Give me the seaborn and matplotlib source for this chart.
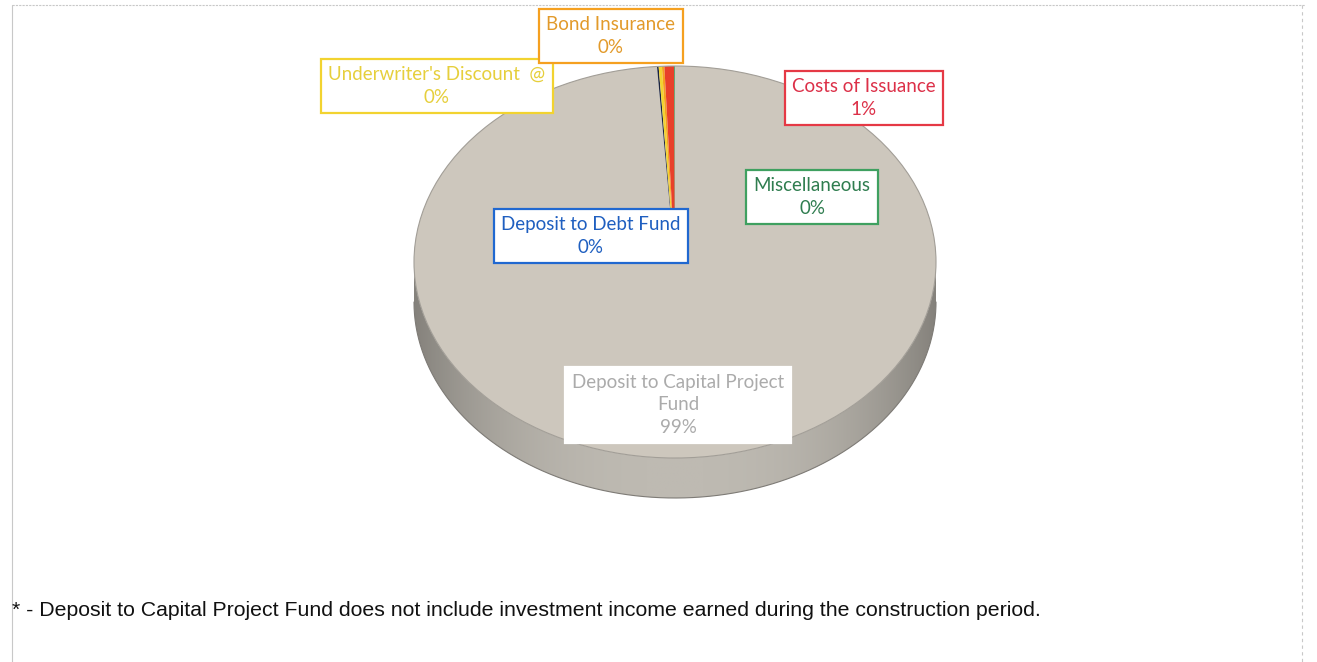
import numpy as np
import matplotlib
matplotlib.use("Agg")
import matplotlib.pyplot as plt
import seaborn as sns
from matplotlib.patches import Polygon, Ellipse
from matplotlib.colors import LinearSegmentedColormap
from matplotlib.lines import Line2D

# ---------------- data ----------------
categories = ["Deposit to Capital Project Fund", "Deposit to Debt Fund",
              "Underwriter's Discount @", "Bond Insurance",
              "Costs of Issuance", "Miscellaneous"]
shares = [98.9, 0.1, 0.2, 0.15, 0.6, 0.05]
slice_colors = ["#CDC7BD", "#1B2440", "#F2D330", "#F5A020", "#E8402A", "#3A9A5A"]
label_colors = ["#ABABAB", "#1F5FC0", "#E6CF3C", "#E29A2A", "#DC3048", "#2F7D4F"]
border_colors = ["#FFFFFF", "#2068D0", "#F2D330", "#F5A020", "#E53945", "#3FA060"]
label_text = ["Deposit to Capital Project\nFund", "Deposit to Debt Fund",
              "Underwriter's Discount  @", "Bond Insurance",
              "Costs of Issuance", "Miscellaneous"]
footnote = ("* - Deposit to Capital Project Fund does not include investment "
            "income earned during the construction period.")

# ---------------- style ----------------
sns.set_theme(style="white")
plt.rcParams["font.family"] = ["Lato", "DejaVu Sans"]

W, H = 1317, 662
fig = plt.figure(figsize=(W / 100, H / 100), dpi=100)
ax = fig.add_axes([0, 0, 1, 1])

# pie geometry in pixels (center, radii, depth)
cx, cy, rx, ry, depth = 675, 262, 261, 196, 40
d = depth / ry

def px(x, y):
    return (x - cx) / rx, (cy - y) / ry

# side of the 3D pie
th = np.linspace(np.pi, 2 * np.pi, 300)
top = np.column_stack([np.cos(th), np.sin(th)])
bot = np.column_stack([np.cos(th[::-1]), np.sin(th[::-1]) - d])
side = Polygon(np.vstack([top, bot]), closed=True, fc="none", ec="none")
ax.add_patch(side)
xs = np.linspace(-1, 1, 400)
grad = np.tile(np.abs(xs) ** 2.5, (50, 1))
cmap = LinearSegmentedColormap.from_list("side", ["#BEBAB2", "#85827C"])
im = ax.imshow(grad, extent=[-1, 1, -1 - d, 0], aspect="auto", cmap=cmap,
               zorder=1, origin="upper")
im.set_clip_path(side)
ax.plot(np.cos(th), np.sin(th) - d, color="#7E7B76", lw=0.8, zorder=1.5)

# top face
wedges, _ = ax.pie(shares, colors=slice_colors, startangle=90, counterclock=False,
                   radius=1, center=(0, 0), wedgeprops=dict(linewidth=0))
for w in wedges:
    w.set_zorder(2)
ax.add_patch(Ellipse((0, 0), 2, 2, fc="none", ec="#A29E97", lw=0.8, zorder=2.5))

# labels
label_pos = [(678, 405), (591, 236), (437, 86), (611, 36), (864, 98), (812, 197)]
total = sum(shares)
for i, (txt, (lx, ly)) in enumerate(zip(label_text, label_pos)):
    pct = f"{round(shares[i] / total * 100):.0f}%"
    x, y = px(lx, ly)
    ax.text(x, y, f"{txt}\n{pct}", ha="center", va="center", fontsize=13.5,
            color=label_colors[i], linespacing=1.4, zorder=5,
            bbox=dict(boxstyle="square,pad=0.38", fc="white",
                      ec=border_colors[i], lw=1.6))

ax.set_aspect("auto")
ax.set_xlim(-cx / rx, (W - cx) / rx)
ax.set_ylim((cy - H) / ry, cy / ry)
ax.axis("off")

# frame lines
fc = "#C8C8C8"
fig.add_artist(Line2D([12 / W, 1305 / W], [1 - 5 / H, 1 - 5 / H], color=fc, lw=0.8, ls=(0, (2, 1))))
fig.add_artist(Line2D([12 / W, 12 / W], [1 - 5 / H, 0], color=fc, lw=0.8))
fig.add_artist(Line2D([1302 / W, 1302 / W], [1 - 5 / H, 0], color=fc, lw=0.8, ls=(0, (3, 3))))

fig.text(12 / W, 1 - 611 / H, footnote, ha="left", va="center", fontsize=15.3,
         family=["Liberation Sans", "DejaVu Sans"], color="#111111")

fig.savefig("out.png", dpi=100)
